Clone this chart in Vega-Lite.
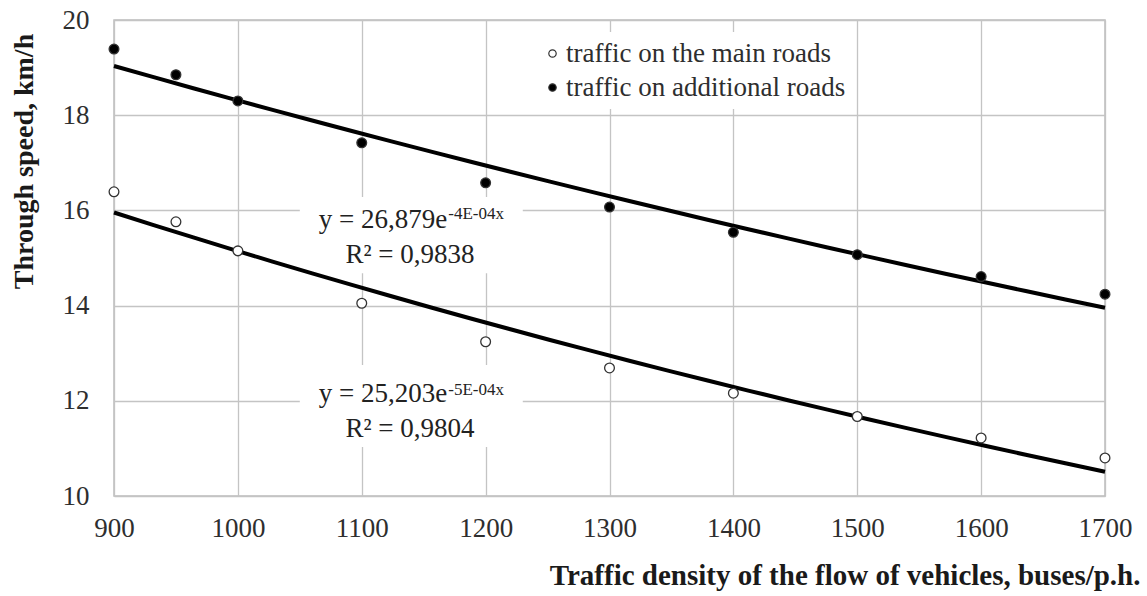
{
  "$schema": "https://vega.github.io/schema/vega-lite/v6.json",
  "width": 991,
  "height": 476,
  "autosize": {"type": "none"},
  "padding": {"left": 114, "top": 20, "right": 42, "bottom": 100},
  "background": "white",
  "config": {
    "font": "Liberation Serif",
    "view": {"stroke": "#bdbdbd", "strokeWidth": 1.5},
    "axis": {
      "grid": true,
      "gridColor": "#c4c4c4",
      "gridWidth": 1.3,
      "ticks": false,
      "domain": false,
      "labelFont": "Liberation Serif",
      "labelFontSize": 27,
      "labelColor": "#2e2e2e",
      "labelFlush": false,
      "labelOverlap": false,
      "titleFont": "Liberation Serif",
      "titleFontSize": 28,
      "titleFontWeight": "bold",
      "titleColor": "#1a1a1a"
    }
  },
  "datasets": {
    "pts": [
      {"density": 900, "speed": 16.39, "series": "traffic on the main roads"},
      {"density": 950, "speed": 15.76, "series": "traffic on the main roads"},
      {"density": 1000, "speed": 15.15, "series": "traffic on the main roads"},
      {"density": 1100, "speed": 14.05, "series": "traffic on the main roads"},
      {"density": 1200, "speed": 13.24, "series": "traffic on the main roads"},
      {"density": 1300, "speed": 12.69, "series": "traffic on the main roads"},
      {"density": 1400, "speed": 12.16, "series": "traffic on the main roads"},
      {"density": 1500, "speed": 11.67, "series": "traffic on the main roads"},
      {"density": 1600, "speed": 11.22, "series": "traffic on the main roads"},
      {"density": 1700, "speed": 10.8, "series": "traffic on the main roads"},
      {"density": 900, "speed": 19.39, "series": "traffic on additional roads"},
      {"density": 950, "speed": 18.85, "series": "traffic on additional roads"},
      {"density": 1000, "speed": 18.3, "series": "traffic on additional roads"},
      {"density": 1100, "speed": 17.42, "series": "traffic on additional roads"},
      {"density": 1200, "speed": 16.58, "series": "traffic on additional roads"},
      {"density": 1300, "speed": 16.07, "series": "traffic on additional roads"},
      {"density": 1400, "speed": 15.54, "series": "traffic on additional roads"},
      {"density": 1500, "speed": 15.07, "series": "traffic on additional roads"},
      {"density": 1600, "speed": 14.61, "series": "traffic on additional roads"},
      {"density": 1700, "speed": 14.24, "series": "traffic on additional roads"}
    ],
    "boxes": [
      {"x1": 1050, "x2": 1230, "y1": 16.28, "y2": 14.68},
      {"x1": 1050, "x2": 1230, "y1": 12.75, "y2": 11.03}
    ],
    "labels": [
      {"kind": "main", "text": "y = 26,879e", "x": 1169, "y": 15.63},
      {"kind": "sup", "text": "-4E-04x", "x": 1169, "y": 15.82},
      {"kind": "r2", "text": "R² = 0,9838", "x": 1139, "y": 14.9},
      {"kind": "main", "text": "y = 25,203e", "x": 1169, "y": 11.975},
      {"kind": "sup", "text": "-5E-04x", "x": 1169, "y": 12.13},
      {"kind": "r2", "text": "R² = 0,9804", "x": 1139, "y": 11.24}
    ]
  },
  "encoding": {
    "x": {
      "field": "density",
      "type": "quantitative",
      "scale": {"domain": [900, 1700], "nice": false, "zero": false},
      "axis": {
        "values": [900, 1000, 1100, 1200, 1300, 1400, 1500, 1600, 1700],
        "format": "d",
        "labelPadding": 19,
        "title": "Traffic density of the flow of vehicles, buses/p.h.",
        "titleFontSize": 29,
        "titleX": 1026,
        "titleY": 88,
        "titleAlign": "right",
        "titleBaseline": "alphabetic"
      }
    },
    "y": {
      "field": "speed",
      "type": "quantitative",
      "scale": {"domain": [10, 20], "nice": false, "zero": false},
      "axis": {
        "values": [10, 12, 14, 16, 18, 20],
        "format": "d",
        "labelPadding": 25,
        "title": "Through speed, km/h",
        "titleX": -76,
        "titleY": 141,
        "titleAlign": "center",
        "titleAngle": -90,
        "titleBaseline": "bottom"
      }
    }
  },
  "layer": [
    {
      "data": {"name": "boxes"},
      "mark": {"type": "rect", "fill": "white"},
      "encoding": {
        "x": {"field": "x1", "type": "quantitative"},
        "x2": {"field": "x2"},
        "y": {"field": "y1", "type": "quantitative"},
        "y2": {"field": "y2"}
      }
    },
    {
      "data": {"name": "pts"},
      "transform": [
        {"regression": "speed", "on": "density", "method": "exp", "groupby": ["series"], "extent": [900, 1700]}
      ],
      "mark": {"type": "line", "color": "black", "strokeWidth": 4},
      "encoding": {
        "detail": {"field": "series"}
      }
    },
    {
      "data": {"name": "pts"},
      "mark": {"type": "circle", "size": 95, "stroke": "#333333", "strokeWidth": 1.3, "opacity": 1},
      "encoding": {
        "fill": {
          "field": "series",
          "type": "nominal",
          "scale": {"domain": ["traffic on the main roads", "traffic on additional roads"], "range": ["white", "black"]},
          "legend": {
            "title": null,
            "orient": "none",
            "legendX": 417,
            "legendY": 12,
            "fillColor": "white",
            "padding": 8,
            "symbolType": "circle",
            "symbolSize": 55,
            "symbolStrokeColor": "#333333",
            "symbolStrokeWidth": 1.2,
            "labelOffset": 0,
            "labelFont": "Liberation Serif",
            "labelFontSize": 27,
            "labelColor": "#2e2e2e",
            "labelLimit": 500,
            "rowPadding": 6
          }
        }
      }
    },
    {
      "data": {"name": "labels"},
      "transform": [{"filter": "datum.kind === 'main'"}],
      "mark": {"type": "text", "align": "right", "baseline": "alphabetic", "fontSize": 27, "color": "#222222", "font": "Liberation Serif"},
      "encoding": {
        "x": {"field": "x", "type": "quantitative"},
        "y": {"field": "y", "type": "quantitative"},
        "text": {"field": "text"}
      }
    },
    {
      "data": {"name": "labels"},
      "transform": [{"filter": "datum.kind === 'sup'"}],
      "mark": {"type": "text", "align": "left", "baseline": "alphabetic", "fontSize": 17, "dx": 1, "color": "#222222", "font": "Liberation Serif"},
      "encoding": {
        "x": {"field": "x", "type": "quantitative"},
        "y": {"field": "y", "type": "quantitative"},
        "text": {"field": "text"}
      }
    },
    {
      "data": {"name": "labels"},
      "transform": [{"filter": "datum.kind === 'r2'"}],
      "mark": {"type": "text", "align": "center", "baseline": "alphabetic", "fontSize": 27, "color": "#222222", "font": "Liberation Serif"},
      "encoding": {
        "x": {"field": "x", "type": "quantitative"},
        "y": {"field": "y", "type": "quantitative"},
        "text": {"field": "text"}
      }
    }
  ]
}
